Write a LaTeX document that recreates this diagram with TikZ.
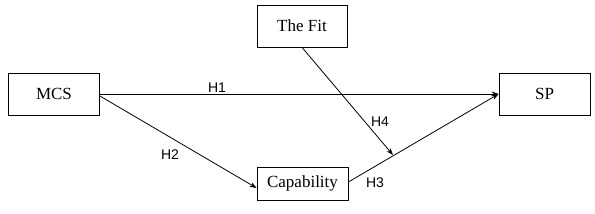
\documentclass[tikz,border=0pt]{standalone}
\usepackage{fontspec}
\setmainfont{Liberation Serif}
\newfontfamily\hfont{Liberation Sans}
\usetikzlibrary{arrows.meta}

\begin{document}
\begin{tikzpicture}[
                x=1pt, y=1pt,
                var/.style={rectangle, draw, line width=0.8pt, minimum width=91pt, minimum height=42pt, inner sep=0pt, font=\fontsize{17}{19}\selectfont},
                hyp/.style={font=\hfont\fontsize{14}{16}\selectfont, inner sep=0pt},
                path/.style={line width=0.8pt, -{Stealth[length=7pt, width=5pt]}}
            ]
                \useasboundingbox (0,0) rectangle (595,214);
                \node[var] (mcs) at (54,120) {MCS};
                \node[var, minimum width=90pt] (fit) at (302,188) {The Fit};
                \node[var] (sp) at (544.5,120) {SP};
                \node[var, minimum height=33pt] (cap) at (302.5,30.5) {Capability};
                \coordinate (mod) at (393,59);
                \draw[path] (mcs.east) -- (sp.west);
                \draw[path] ([yshift=-2pt]mcs.east) -- ([yshift=-4.5pt]cap.west);
                \draw[path] ([yshift=1.5pt]cap.east) -- (sp.west);
                \draw[path] (fit.south) -- (mod);
                \node[hyp] (h1) at (217,126) {H1};
                \node[hyp] (h2) at (170,59) {H2};
                \node[hyp] (h3) at (375,31) {H3};
                \node[hyp] (h4) at (380,92) {H4};
            \end{tikzpicture}
\end{document}
